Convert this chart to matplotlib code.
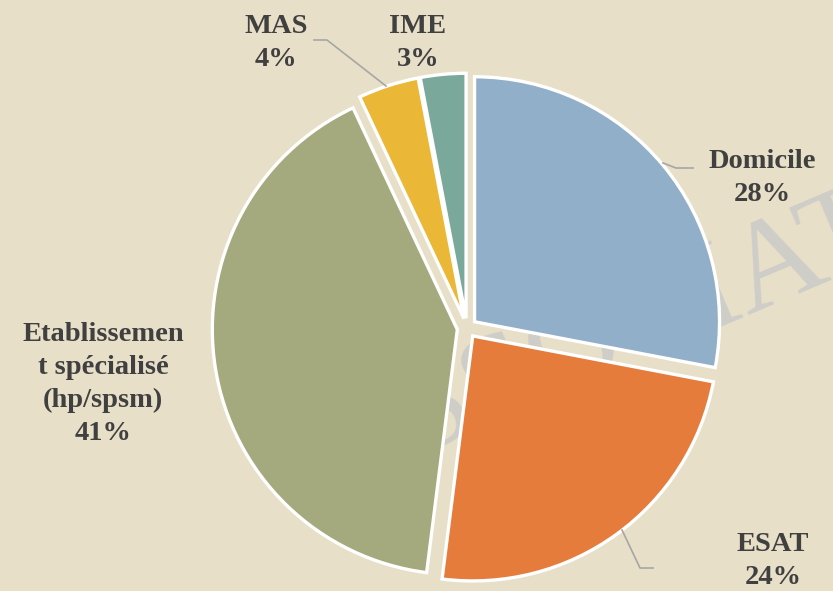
import matplotlib
matplotlib.use("Agg")
import matplotlib.pyplot as plt

categories = ["Domicile", "ESAT", "Etablissemen\nt spécialisé\n(hp/spsm)", "MAS", "IME"]
values = [28, 24, 41, 4, 3]
pct_labels = ["28%", "24%", "41%", "4%", "3%"]
colors = ["#92AFC9", "#E57C3C", "#A4AA7E", "#EAB737", "#7AA89B"]

W, H = 833, 591
CX, CY, R = 467, 328, 245

def px(x, y):
    return ((x - CX) / R, (CY - y) / R)

bg = "#E7DFC7"
fig = plt.figure(figsize=(W / 100, H / 100), dpi=100, facecolor=bg)
ax = fig.add_axes([0, 0, 1, 1])
ax.set_facecolor(bg)
x0, y1 = px(0, 0)
x1, y0 = px(W, H)

# watermark (behind the pie)
wx, wy = px(330, 492)
ax.text(wx, wy, "ASSOCIAT", fontsize=92, family="Liberation Serif", color="#cfcdc8",
        rotation=23, rotation_mode="anchor", ha="left", va="baseline", zorder=0,
        clip_on=True)

wedges, _ = ax.pie(values, colors=colors, startangle=90, counterclock=False,
                   explode=[0.04] * len(values), radius=1.0,
                   wedgeprops=dict(edgecolor="white", linewidth=2.4),
                   frame=True)
for w in wedges:
    w.set_zorder(2)
ax.set_xlim(x0, x1)
ax.set_ylim(y0, y1)
ax.set_aspect("auto")
ax.axis("off")

label_pos = [(762, 178), (773, 561), (103, 384), (276, 43), (418, 43)]
font = dict(family="Liberation Serif", fontweight="bold", fontsize=20.5, color="#404040",
            ha="center", va="center", linespacing=1.42)
for cat, pct, (lx, ly) in zip(categories, pct_labels, label_pos):
    x, y = px(lx, ly)
    ax.text(x, y, f"{cat}\n{pct}", zorder=5, **font)

leaders = [
    [(663, 163), (676, 168), (693, 168)],
    [(622, 530), (640, 568), (653, 568)],
    [(386, 86), (327, 40), (314, 40)],
]
for pts in leaders:
    xs, ys = zip(*[px(a, b) for a, b in pts])
    ax.plot(xs, ys, color="#A6A6A6", lw=1.2, zorder=3)

fig.savefig("out.png", dpi=100, facecolor=bg)
